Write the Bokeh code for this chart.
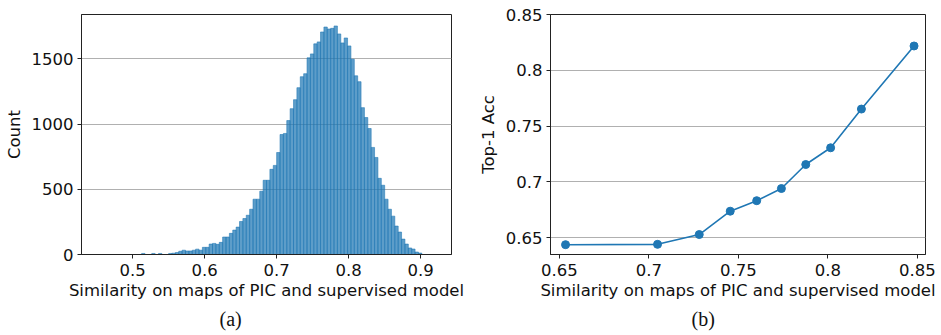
from bokeh.plotting import figure
from bokeh.layouts import row
from bokeh.models import FixedTicker, Range1d, Title
from bokeh.embed import file_html
from bokeh.resources import INLINE

# ---------------- data ----------------
# (a) histogram of similarity values
hist_bin_start = 0.5125
hist_bin_width = 0.00469
hist_counts = [8, 0, 0, 8, 0, 8, 0, 0, 8, 10,
               15, 25, 33, 27, 27, 33, 41, 33, 55, 55,
               80, 85, 78, 93, 134, 134, 162, 187, 210, 253,
               276, 301, 347, 424, 424, 485, 569, 569, 653, 683,
               782, 920, 928, 1027, 1118, 1187, 1279, 1363, 1386, 1508,
               1538, 1615, 1630, 1706, 1744, 1729, 1734, 1752, 1691, 1622,
               1660, 1599, 1497, 1370, 1325, 1126, 1050, 966, 821, 744,
               584, 531, 424, 347, 294, 218, 172, 118, 80, 50,
               42, 19, 11]
hist_xticks = [0.5, 0.6, 0.7, 0.8, 0.9]
hist_xtick_labels = ["0.5", "0.6", "0.7", "0.8", "0.9"]
hist_yticks = [0, 500, 1000, 1500]
hist_ytick_labels = ["0", "500", "1000", "1500"]

# (b) accuracy vs similarity
sim_x = [0.6534, 0.7048, 0.7281, 0.7454, 0.7602, 0.7740, 0.7876, 0.8015, 0.8187, 0.8481]
acc_y = [0.6438, 0.6441, 0.6529, 0.6738, 0.6832, 0.6941, 0.7156, 0.7306, 0.7653, 0.8218]
acc_xticks = [0.65, 0.70, 0.75, 0.80, 0.85]
acc_xtick_labels = ["0.65", "0.7", "0.75", "0.8", "0.85"]
acc_yticks = [0.65, 0.70, 0.75, 0.80, 0.85]
acc_ytick_labels = ["0.65", "0.7", "0.75", "0.8", "0.85"]

x_label = "Similarity on maps of PIC and supervised model"
BLUE = "#1f77b4"
FONT = "DejaVu Sans"
FS = "16.5px"


def style(p, xticks, xlabels, yticks, ylabels):
    p.xgrid.visible = False
    p.ygrid.grid_line_color = "#b0b0b0"
    p.ygrid.grid_line_width = 1
    p.outline_line_color = "#222222"
    p.outline_line_width = 1
    p.outline_line_alpha = 1
    p.background_fill_color = "white"
    p.border_fill_color = "white"
    p.xaxis.ticker = FixedTicker(ticks=xticks)
    p.yaxis.ticker = FixedTicker(ticks=yticks)
    p.xaxis.major_label_overrides = {t: l for t, l in zip(xticks, xlabels)}
    p.yaxis.major_label_overrides = {t: l for t, l in zip(yticks, ylabels)}
    for ax in (p.xaxis[0], p.yaxis[0]):
        ax.axis_line_color = "#222222"
        ax.major_tick_line_color = "#222222"
        ax.major_tick_out = 4
        ax.major_tick_in = 0
        ax.minor_tick_line_color = None
        ax.major_label_standoff = 5
        ax.major_label_text_font = FONT
        ax.major_label_text_font_size = FS
        ax.major_label_text_color = "#111111"
        ax.axis_label_text_font = FONT
        ax.axis_label_text_font_size = FS
        ax.axis_label_text_font_style = "normal"
        ax.axis_label_text_color = "#111111"
        ax.axis_label_standoff = 2
    p.yaxis[0].major_label_standoff = 4
    p.yaxis[0].axis_label_standoff = 5


# ---------------- (a) histogram ----------------
p1 = figure(width=470, height=335, output_backend="svg", toolbar_location=None,
            x_range=Range1d(0.429, 0.943), y_range=Range1d(0, 1840),
            min_border_left=81, min_border_right=19, min_border_top=14, min_border_bottom=81)
lefts = [hist_bin_start + i * hist_bin_width for i in range(len(hist_counts))]
rights = [l + hist_bin_width for l in lefts]
p1.quad(left=lefts, right=rights, bottom=0, top=hist_counts,
        fill_color=BLUE, fill_alpha=0.72, line_color=BLUE, line_alpha=0.8, line_width=0.7)
style(p1, hist_xticks, hist_xtick_labels, hist_yticks, hist_ytick_labels)
p1.xaxis.axis_label = x_label
p1.yaxis.axis_label = "Count"
p1.add_layout(Title(text="(a)", align="left", offset=138, text_font="Liberation Serif",
                    text_font_size="20px", text_font_style="normal", text_color="#111111",
                    standoff=6), "below")

# ---------------- (b) line chart ----------------
p2 = figure(width=471, height=335, output_backend="svg", toolbar_location=None,
            x_range=Range1d(0.645, 0.8545), y_range=Range1d(0.635, 0.85),
            min_border_left=80, min_border_right=16, min_border_top=10, min_border_bottom=81)
p2.line(sim_x, acc_y, line_color=BLUE, line_width=1.6)
p2.scatter(sim_x, acc_y, size=8, fill_color=BLUE, line_color=BLUE)
style(p2, acc_xticks, acc_xtick_labels, acc_yticks, acc_ytick_labels)
p2.xaxis.axis_label = x_label
p2.yaxis.axis_label = "Top-1 Acc"
p2.add_layout(Title(text="(b)", align="left", offset=141, text_font="Liberation Serif",
                    text_font_size="20px", text_font_style="normal", text_color="#111111",
                    standoff=6), "below")

layout = row(p1, p2, spacing=0)
open("out.html", "w").write(file_html(layout, INLINE))
